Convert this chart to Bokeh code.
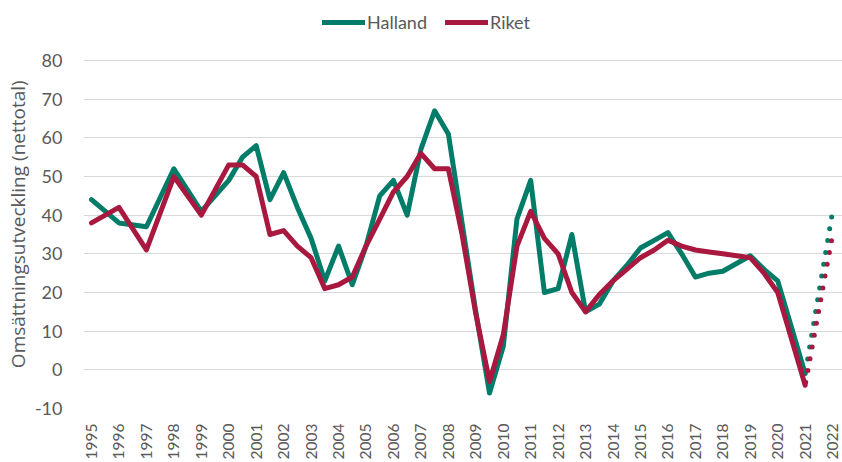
import math
from bokeh.plotting import figure
from bokeh.models import Range1d, FixedTicker, Legend, LegendItem, ColumnDataSource
from bokeh.embed import file_html
from bokeh.resources import INLINE

# ---- data ----
years = [1995, 1996, 1997, 1998, 1999,
         2000, 2000.5, 2001, 2001.5, 2002, 2002.5, 2003, 2003.5, 2004, 2004.5,
         2005, 2005.5, 2006, 2006.5, 2007, 2007.5, 2008, 2008.5, 2009, 2009.5,
         2010, 2010.5, 2011, 2011.5, 2012, 2012.5, 2013, 2013.5, 2014, 2014.5,
         2015, 2015.5, 2016, 2016.5, 2017, 2017.5, 2018, 2018.5, 2019, 2019.5,
         2020, 2020.5, 2021]
halland = [44, 38, 37, 52, 41,
           49, 55, 58, 44, 51, 42, 34, 23, 32, 22,
           32, 45, 49, 40, 57, 67, 61, 38, 15, -6,
           6, 39, 49, 20, 21, 35, 15, 17, 23, 27,
           31.5, 33.5, 35.5, 30, 24, 25, 25.5, 27.5, 29.5, 26,
           23, 11, -1]
riket = [38, 42, 31, 50, 40,
         53, 53, 50, 35, 36, 32, 29, 21, 22, 24,
         32, 39, 46, 50, 56, 52, 52, 35, 14.5, -3,
         9, 32, 41, 34, 30, 20, 15, 19.5, 23, 26,
         29, 31, 33.5, 32, 31, 30.5, 30, 29.5, 29, 25,
         20, 8, -4]
forecast_years = [2021, 2022]
halland_forecast = [-1, 41]
riket_forecast = [-4, 35]
tick_years = list(range(1995, 2023))
y_ticks = list(range(-10, 90, 10))

HALLAND_COLOR = "#007C69"
RIKET_COLOR = "#A8183F"
TEXT_COLOR = "#595959"

# frame spans the full top so the legend (drawn in the frame) is not clipped;
# only ticks -10..80 are drawn, so the extra headroom stays empty.
p = figure(width=842, height=462, output_backend="svg", toolbar_location=None,
           x_range=Range1d(1994.708, 2022.36), y_range=Range1d(-10, 95.52),
           min_border_left=83, min_border_right=0, min_border_top=0,
           min_border_bottom=54)
p.outline_line_color = None
p.background_fill_color = "white"
p.border_fill_color = "white"

src_h = ColumnDataSource(dict(x=years, y=halland))
src_r = ColumnDataSource(dict(x=years, y=riket))
src_hf = ColumnDataSource(dict(x=forecast_years, y=halland_forecast))
src_rf = ColumnDataSource(dict(x=forecast_years, y=riket_forecast))

lh = p.line("x", "y", source=src_h, line_color=HALLAND_COLOR, line_width=5,
            line_join="round", line_cap="round")
lr = p.line("x", "y", source=src_r, line_color=RIKET_COLOR, line_width=5,
            line_join="round", line_cap="round")
p.line("x", "y", source=src_hf, line_color=HALLAND_COLOR, line_width=5,
       line_dash="0 12", line_cap="round", line_dash_offset=9)
p.line("x", "y", source=src_rf, line_color=RIKET_COLOR, line_width=5,
       line_dash="0 12", line_cap="round", line_dash_offset=9)

# axes
p.xaxis.ticker = FixedTicker(ticks=tick_years)
p.xaxis.major_label_orientation = math.pi / 2
p.xaxis.major_label_text_font = "Lato"
p.xaxis.major_label_text_font_size = "15.5px"
p.xaxis.major_label_text_color = TEXT_COLOR
p.xaxis.major_label_standoff = 9
p.xaxis.axis_line_color = None
p.xaxis.major_tick_line_color = None
p.xaxis.minor_tick_line_color = None

p.yaxis.ticker = FixedTicker(ticks=y_ticks)
p.yaxis.major_label_overrides = {t: str(t) for t in y_ticks}
p.yaxis.major_label_text_font = "Lato"
p.yaxis.major_label_text_font_size = "18px"
p.yaxis.major_label_text_color = TEXT_COLOR
p.yaxis.major_label_standoff = 15
p.yaxis.axis_line_color = None
p.yaxis.major_tick_line_color = None
p.yaxis.minor_tick_line_color = None
# trailing no-break spaces shift the visible title down to the plotted area
p.yaxis.axis_label = "Omsättningsutveckling (nettotal)" + "\u00a0" * 8
p.yaxis.axis_label_text_font = "Open Sans"
p.yaxis.axis_label_text_font_size = "19px"
p.yaxis.axis_label_text_font_style = "normal"
p.yaxis.axis_label_text_color = TEXT_COLOR
p.yaxis.axis_label_standoff = 1

p.xgrid.grid_line_color = None
p.ygrid.grid_line_color = "#d9d9d9"
p.ygrid.grid_line_width = 1

legend = Legend(items=[LegendItem(label="Halland", renderers=[lh]),
                       LegendItem(label="Riket", renderers=[lr])],
                orientation="horizontal", location=(239, 375),
                padding=0, margin=0, spacing=18, label_standoff=2,
                glyph_width=43, glyph_height=22, label_height=22,
                label_text_font="Lato", label_text_font_size="18px",
                label_text_color=TEXT_COLOR, border_line_color=None,
                background_fill_alpha=0)
p.add_layout(legend, "center")

open("out.html", "w").write(file_html(p, INLINE))
